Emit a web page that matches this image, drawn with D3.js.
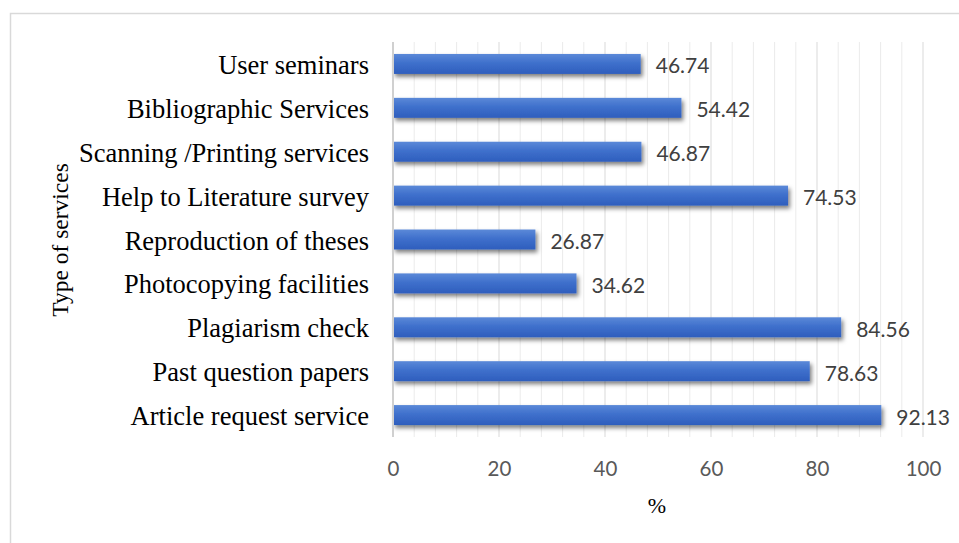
<!DOCTYPE html>
<html>
<head>
<meta charset="utf-8">
<script src="https://cdn.jsdelivr.net/npm/d3@7"></script>
<style>
  html, body { margin: 0; padding: 0; background: #fff; }
  svg { display: block; }
</style>
</head>
<body>
<svg id="chart" width="959" height="543"></svg>
<script>
// Share of respondents using each library service (%)
const services = [
  "User seminars",
  "Bibliographic Services",
  "Scanning /Printing services",
  "Help to Literature survey",
  "Reproduction of theses",
  "Photocopying facilities",
  "Plagiarism check",
  "Past question papers",
  "Article request service"
];
const percentages = [46.74, 54.42, 46.87, 74.53, 26.87, 34.62, 84.56, 78.63, 92.13];
const xTicks = [0, 20, 40, 60, 80, 100];
const minorStep = 4;

const svg = d3.select("#chart");
const W = 959, H = 543;
const plot = { left: 393, right: 923, top: 42, bottom: 437 };

const x = d3.scaleLinear().domain([0, 100]).range([plot.left, plot.right]);
const y = d3.scaleBand()
  .domain(services)
  .range([plot.top, plot.bottom])
  .paddingInner(0.545)
  .paddingOuter(0.2725);

const defs = svg.append("defs");
const grad = defs.append("linearGradient")
  .attr("id", "barFill").attr("x1", 0).attr("y1", 0).attr("x2", 0).attr("y2", 1);
grad.append("stop").attr("offset", "0%").attr("stop-color", "#5b89d8");
grad.append("stop").attr("offset", "45%").attr("stop-color", "#3f70cc");
grad.append("stop").attr("offset", "100%").attr("stop-color", "#2e5ebd");

const shadow = defs.append("filter")
  .attr("id", "barShadow").attr("x", "-5%").attr("y", "-40%").attr("width", "115%").attr("height", "200%");
shadow.append("feDropShadow")
  .attr("dx", 2).attr("dy", 3).attr("stdDeviation", 2.2)
  .attr("flood-color", "#000").attr("flood-opacity", 0.5);

// outer frame
svg.append("rect")
  .attr("x", 10.5).attr("y", 13.5)
  .attr("width", W + 20).attr("height", H + 20)
  .attr("fill", "none").attr("stroke", "#d9d9d9").attr("stroke-width", 1.5);

// minor gridlines
const minorVals = d3.range(0, 100 + 0.001, minorStep).filter(v => v % 20 !== 0);
svg.append("g").selectAll("line").data(minorVals).join("line")
  .attr("x1", d => x(d)).attr("x2", d => x(d))
  .attr("y1", plot.top).attr("y2", plot.bottom)
  .attr("stroke", "#ebebeb").attr("stroke-width", 1);

// major gridlines
svg.append("g").selectAll("line").data(xTicks.filter(v => v > 0)).join("line")
  .attr("x1", d => x(d)).attr("x2", d => x(d))
  .attr("y1", plot.top).attr("y2", plot.bottom)
  .attr("stroke", "#d9d9d9").attr("stroke-width", 1);

// bars
svg.append("g").selectAll("rect").data(services).join("rect")
  .attr("x", x(0))
  .attr("y", d => y(d))
  .attr("width", (d, i) => x(percentages[i]) - x(0))
  .attr("height", y.bandwidth())
  .attr("fill", "url(#barFill)")
  .attr("filter", "url(#barShadow)");

// vertical category axis line
svg.append("line")
  .attr("x1", x(0)).attr("x2", x(0))
  .attr("y1", plot.top).attr("y2", plot.bottom)
  .attr("stroke", "#d0d0d0").attr("stroke-width", 2);

// value labels
svg.append("g").selectAll("text").data(services).join("text")
  .attr("x", (d, i) => x(percentages[i]) + 15)
  .attr("y", d => y(d) + y.bandwidth() / 2 + 1)
  .attr("dominant-baseline", "central")
  .attr("font-family", "Lato, 'Open Sans', sans-serif")
  .attr("font-size", 21)
  .attr("fill", "#404040")
  .text((d, i) => percentages[i].toFixed(2));

// category labels
svg.append("g").selectAll("text").data(services).join("text")
  .attr("x", 369)
  .attr("y", d => y(d) + y.bandwidth() / 2 + 1)
  .attr("dominant-baseline", "central")
  .attr("text-anchor", "end")
  .attr("font-family", "'Liberation Serif', 'Times New Roman', serif")
  .attr("font-size", 26.5)
  .attr("fill", "#000")
  .text(d => d);

// value axis tick labels
const xAxis = d3.axisBottom(x).tickValues(xTicks).tickSize(0).tickPadding(0);
const gx = svg.append("g").attr("transform", `translate(0, ${plot.bottom})`).call(xAxis);
gx.select(".domain").remove();
gx.selectAll("text")
  .attr("y", 31)
  .attr("dy", null)
  .attr("dominant-baseline", "central")
  .attr("font-family", "Lato, 'Open Sans', sans-serif")
  .attr("font-size", 20.5)
  .attr("fill", "#595959");

// axis titles
svg.append("text")
  .attr("x", 657).attr("y", 505)
  .attr("text-anchor", "middle")
  .attr("dominant-baseline", "central")
  .attr("font-family", "'Liberation Serif', 'Times New Roman', serif")
  .attr("font-size", 22)
  .attr("fill", "#000")
  .text("%");

svg.append("text")
  .attr("transform", "translate(60, 240) rotate(-90)")
  .attr("text-anchor", "middle")
  .attr("dominant-baseline", "central")
  .attr("font-family", "'Liberation Serif', 'Times New Roman', serif")
  .attr("font-size", 23.5)
  .attr("fill", "#000")
  .text("Type of services");
</script>
</body>
</html>
